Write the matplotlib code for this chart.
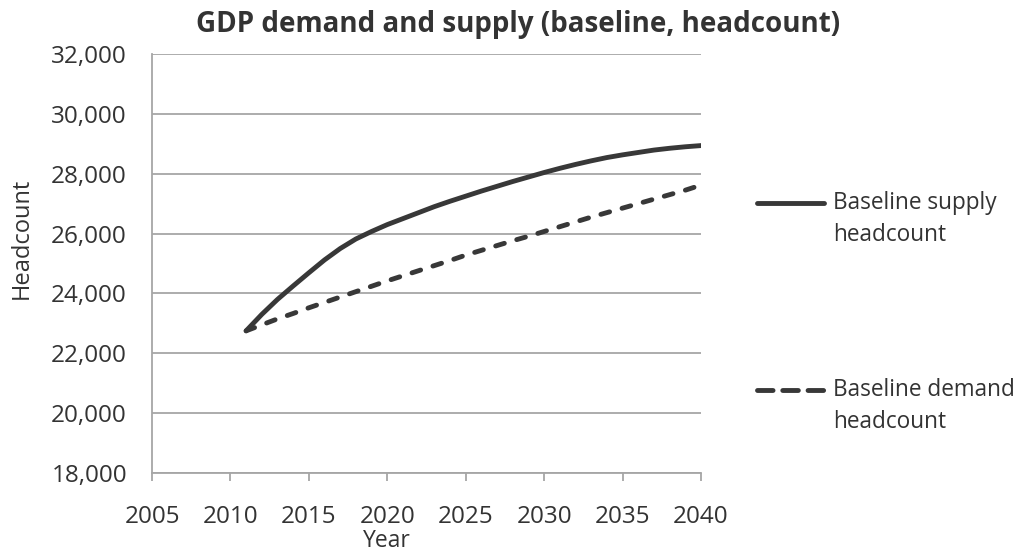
import matplotlib
matplotlib.use("Agg")
import matplotlib.pyplot as plt
from matplotlib.lines import Line2D
from matplotlib.ticker import FuncFormatter, MultipleLocator

plt.rcParams['font.family'] = ['Open Sans', 'DejaVu Sans']

years = list(range(2011, 2041))
supply = [22750, 23300, 23800, 24250, 24690, 25120, 25500, 25820, 26070, 26300,
          26500, 26700, 26900, 27080, 27250, 27420, 27580, 27740, 27890, 28040,
          28180, 28310, 28430, 28540, 28630, 28710, 28790, 28850, 28900, 28940]
demand = [22750, 22950, 23150, 23330, 23520, 23700, 23880, 24060, 24240, 24420,
          24590, 24760, 24930, 25100, 25280, 25440, 25600, 25760, 25910, 26070,
          26230, 26390, 26550, 26700, 26850, 27000, 27150, 27300, 27450, 27620]
series_labels = [["Baseline supply", "headcount"], ["Baseline demand", "headcount"]]
title = "GDP demand and supply (baseline, headcount)"
xlabel = "Year"
ylabel = "Headcount"

line_color = "#383838"
grid_color = "#a6a6a6"
text_color = "#333333"
W, H = 1030, 555

fig = plt.figure(figsize=(W / 100, H / 100), dpi=100)
ax = fig.add_axes([152 / W, 1 - 473 / H, 549 / W, 419 / H])

lw = 3.5
l1, = ax.plot(years, supply, color=line_color, lw=lw, solid_capstyle='round',
              solid_joinstyle='round')
l2, = ax.plot(years, demand, color=line_color, lw=lw, dash_capstyle='round')
l2.set_dashes([1.86, 2.66])

ax.set_xlim(2005, 2040)
ax.set_ylim(18000, 32000)
ax.xaxis.set_major_locator(MultipleLocator(5))
ax.yaxis.set_major_locator(MultipleLocator(2000))
ax.yaxis.set_major_formatter(FuncFormatter(lambda v, p: f"{int(v):,}"))

ax.grid(axis='y', color=grid_color, lw=1.3)
ax.set_axisbelow(True)
for s in ['top', 'right']:
    ax.spines[s].set_visible(False)
for s in ['left', 'bottom']:
    ax.spines[s].set_color(grid_color)
    ax.spines[s].set_linewidth(1.3)

ax.tick_params(axis='y', length=0, pad=18, labelsize=17.5, labelcolor=text_color)
ax.tick_params(axis='x', length=6, width=1.3, color=grid_color, pad=17,
               labelsize=17.5, labelcolor=text_color)

ax.set_xlabel(xlabel, fontsize=16.5, color=text_color, va='center')
ax.xaxis.set_label_coords((387 - 152) / 549, (473 - 541) / 419)
ax.set_ylabel(ylabel, fontsize=17, color=text_color, va='center')
ax.yaxis.set_label_coords((22 - 152) / 549, (473 - 238) / 419)

fig.text(518 / W, 1 - 32 / H, title, ha='center', va='baseline', fontsize=20,
         fontweight='bold', color=text_color)

# legend (drawn manually to match layout)
for handle, labels, yc, y2 in [(l1, series_labels[0], 203, 235),
                               (l2, series_labels[1], 390, 422)]:
    sample = Line2D([757 / W, 824 / W], [1 - yc / H] * 2, transform=fig.transFigure,
                    color=line_color, lw=lw, solid_capstyle='round',
                    dash_capstyle='round')
    if handle is l2:
        sample.set_dashes([3.2, 2.0])
    fig.add_artist(sample)
    fig.text(833 / W, 1 - yc / H, labels[0], ha='left', va='center', fontsize=16.3,
             color=text_color)
    fig.text(833 / W, 1 - y2 / H, labels[1], ha='left', va='center', fontsize=16.3,
             color=text_color)

fig.savefig("out.png", dpi=100)
